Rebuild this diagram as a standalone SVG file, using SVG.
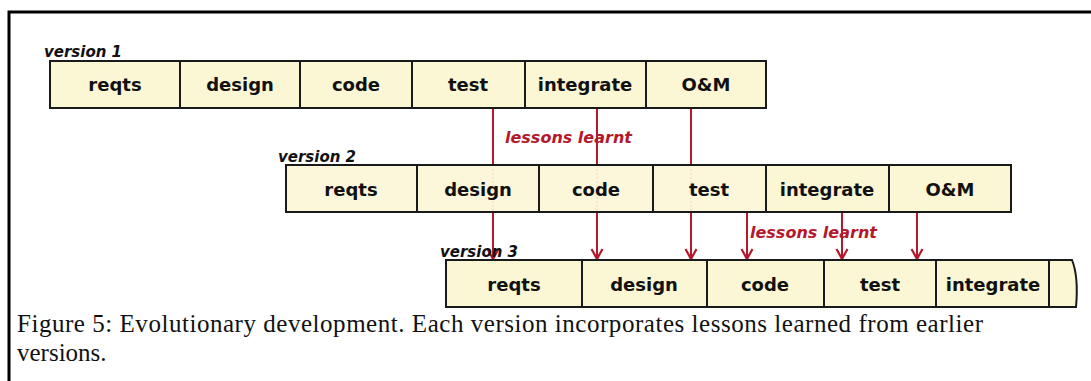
<svg xmlns="http://www.w3.org/2000/svg" width="1091" height="381" viewBox="0 0 1091 381">
<style>
.box{fill:#fbf6d3;stroke:#1a1a1a;stroke-width:2}
.lbl{font-family:"DejaVu Sans",sans-serif;font-weight:bold;font-size:18px;fill:#111;text-anchor:middle}
.ver{font-family:"DejaVu Sans",sans-serif;font-weight:bold;font-style:italic;font-size:15px;fill:#111}
.les{font-family:"DejaVu Sans",sans-serif;font-weight:bold;font-style:italic;font-size:16px;fill:#b5182b}
.arr{stroke:#b5182b;stroke-width:2;fill:none}
.dot{stroke:#e07080;stroke-width:1.5;stroke-dasharray:2 2;fill:none}
.cap{font-family:"Liberation Serif",serif;font-size:25px;fill:#111}
</style>
<defs>
<marker id="ah" markerWidth="14" markerHeight="14" refX="11" refY="7" orient="auto" markerUnits="userSpaceOnUse" viewBox="0 0 14 14">
<path d="M1,1.5 L11,7 L1,12.5" fill="none" stroke="#b5182b" stroke-width="2.2"/>
</marker>
</defs>
<rect width="1091" height="381" fill="#fff"/>
<path d="M9,381 V12 H1091" fill="none" stroke="#000" stroke-width="3"/>

<g id="connectors">
<line class="arr" x1="493" y1="108" x2="493" y2="165"/>
<line class="dot" x1="493" y1="165" x2="493" y2="212"/>
<line class="arr" x1="493" y1="212" x2="493" y2="259" marker-end="url(#ah)"/>
<line class="arr" x1="597" y1="108" x2="597" y2="165"/>
<line class="dot" x1="597" y1="165" x2="597" y2="212"/>
<line class="arr" x1="597" y1="212" x2="597" y2="259" marker-end="url(#ah)"/>
<line class="arr" x1="691" y1="108" x2="691" y2="165"/>
<line class="dot" x1="691" y1="165" x2="691" y2="212"/>
<line class="arr" x1="691" y1="212" x2="691" y2="259" marker-end="url(#ah)"/>
<line class="arr" x1="747" y1="212" x2="747" y2="259" marker-end="url(#ah)"/>
<line class="arr" x1="842" y1="212" x2="842" y2="259" marker-end="url(#ah)"/>
<line class="arr" x1="917" y1="212" x2="917" y2="259" marker-end="url(#ah)"/>
<text class="les" x="505" y="143">lessons learnt</text>
<text class="les" x="750" y="238">lessons learnt</text>
</g>

<g id="version1">
<text class="ver" x="44" y="57">version 1</text>
<rect class="box" x="50" y="61" width="130" height="47"/><text class="lbl" x="115" y="91">reqts</text>
<rect class="box" x="180" y="61" width="120" height="47"/><text class="lbl" x="240" y="91">design</text>
<rect class="box" x="300" y="61" width="112" height="47"/><text class="lbl" x="356" y="91">code</text>
<rect class="box" x="412" y="61" width="113" height="47"/><text class="lbl" x="468" y="91">test</text>
<rect class="box" x="525" y="61" width="121" height="47"/><text class="lbl" x="585" y="91">integrate</text>
<rect class="box" x="646" y="61" width="120" height="47"/><text class="lbl" x="706" y="91">O&amp;M</text>
</g>

<g id="version2">
<text class="ver" x="278" y="162">version 2</text>
<rect class="box" x="286" y="165" width="131" height="47" fill-opacity="0.85"/><text class="lbl" x="351" y="196">reqts</text>
<rect class="box" x="417" y="165" width="122" height="47" fill-opacity="0.85"/><text class="lbl" x="478" y="196">design</text>
<rect class="box" x="539" y="165" width="114" height="47" fill-opacity="0.85"/><text class="lbl" x="596" y="196">code</text>
<rect class="box" x="653" y="165" width="113" height="47" fill-opacity="0.85"/><text class="lbl" x="709" y="196">test</text>
<rect class="box" x="766" y="165" width="123" height="47"/><text class="lbl" x="827" y="196">integrate</text>
<rect class="box" x="889" y="165" width="122" height="47"/><text class="lbl" x="950" y="196">O&amp;M</text>
</g>

<g id="version3">
<text class="ver" x="440" y="257">version 3</text>
<rect class="box" x="446" y="260" width="136" height="47"/><text class="lbl" x="514" y="291">reqts</text>
<rect class="box" x="582" y="260" width="125" height="47"/><text class="lbl" x="644" y="291">design</text>
<rect class="box" x="707" y="260" width="117" height="47"/><text class="lbl" x="765" y="291">code</text>
<rect class="box" x="824" y="260" width="112" height="47"/><text class="lbl" x="880" y="291">test</text>
<rect class="box" x="936" y="260" width="113" height="47"/><text class="lbl" x="993" y="291">integrate</text>
<path class="box" d="M1049,260 H1072 C1076,270 1078,285 1076,307 H1049 Z"/>
</g>

<g id="caption">
<text class="cap" x="17" y="332" textLength="966" lengthAdjust="spacing">Figure 5: Evolutionary development. Each version incorporates lessons learned from earlier</text>
<text class="cap" x="17" y="361">versions.</text>
</g>
</svg>
